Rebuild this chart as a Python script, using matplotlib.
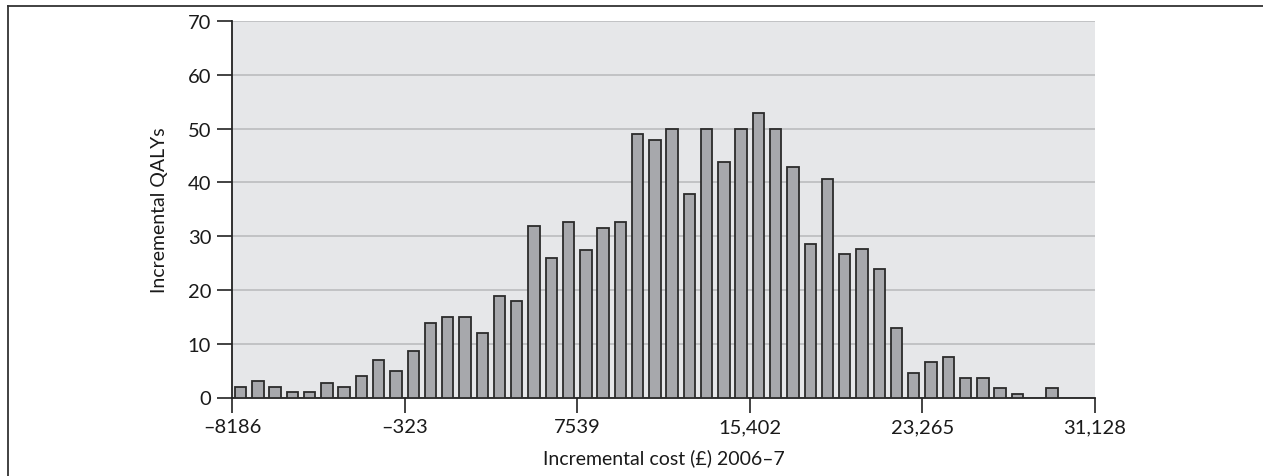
import numpy as np
import matplotlib
matplotlib.use("Agg")
import matplotlib.pyplot as plt
from matplotlib.lines import Line2D

plt.rcParams['font.family'] = ['Lato', 'DejaVu Sans']

# Data
tick_values = [-8186, -323, 7539, 15402, 23265, 31128]
tick_labels = ['–8186', '–323', '7539', '15,402', '23,265', '31,128']
counts = [2, 3, 2, 1, 1, 2.7, 1.9, 4, 7, 5,
          8.7, 13.9, 15, 15, 11.9, 18.9, 18, 31.8, 25.9, 32.7,
          27.5, 31.6, 32.7, 49, 47.8, 50, 37.8, 49.9, 43.8, 49.9,
          52.9, 50, 42.8, 28.6, 40.7, 26.6, 27.6, 23.8, 12.9, 4.5,
          6.6, 7.5, 3.7, 3.7, 1.7, 0.7, 0, 1.7, 0, 0]
y_ticks = [0, 10, 20, 30, 40, 50, 60, 70]
x_label = 'Incremental cost (£) 2006–7'
y_label = 'Incremental QALYs'

W, H = 1263, 477
fig = plt.figure(figsize=(W / 100, H / 100), dpi=100)
ax = fig.add_axes([232 / W, 1 - 398.5 / H, (1095 - 232) / W, (398.5 - 22) / H])

xmin, xmax = tick_values[0], tick_values[-1]
nb = len(counts)
bw = (xmax - xmin) / nb
centers = xmin + (np.arange(nb) + 0.5) * bw
vals = np.array(counts, dtype=float)
mask = vals > 0
ax.bar(centers[mask], vals[mask], width=bw * 0.66, color='#a7a8ac',
       edgecolor='#2b2b2b', linewidth=1.3, zorder=3)

ax.set_facecolor('#e6e7e9')
ax.set_xlim(xmin, xmax)
ax.set_ylim(0, 70)
ax.set_yticks(y_ticks)
ax.set_xticks(tick_values)
ax.set_xticklabels(tick_labels)
ax.yaxis.grid(True, color='#c2c3c5', linewidth=1.4, zorder=0)
ax.set_axisbelow(True)
for s in ['top', 'right']:
    ax.spines[s].set_visible(False)
for s in ['left', 'bottom']:
    ax.spines[s].set_color('#222222')
    ax.spines[s].set_linewidth(1.3)
ax.tick_params(axis='both', direction='out', length=11, width=1.2,
               color='#222222', labelsize=14.5, labelcolor='#1a1a1a', pad=4)
ax.set_xlabel(x_label, fontsize=14, color='#1a1a1a', labelpad=9)
ax.set_ylabel(y_label, fontsize=14, color='#1a1a1a', labelpad=14)

# Frame lines (top and left)
fig.add_artist(Line2D([8.3 / W, 8.3 / W], [0, 1 - 6.7 / H], transform=fig.transFigure,
                      color='#333333', linewidth=1.3))
fig.add_artist(Line2D([8.3 / W, 1], [1 - 6.7 / H, 1 - 6.7 / H], transform=fig.transFigure,
                      color='#333333', linewidth=1.3))

fig.savefig('out.png', dpi=100, facecolor='white')
